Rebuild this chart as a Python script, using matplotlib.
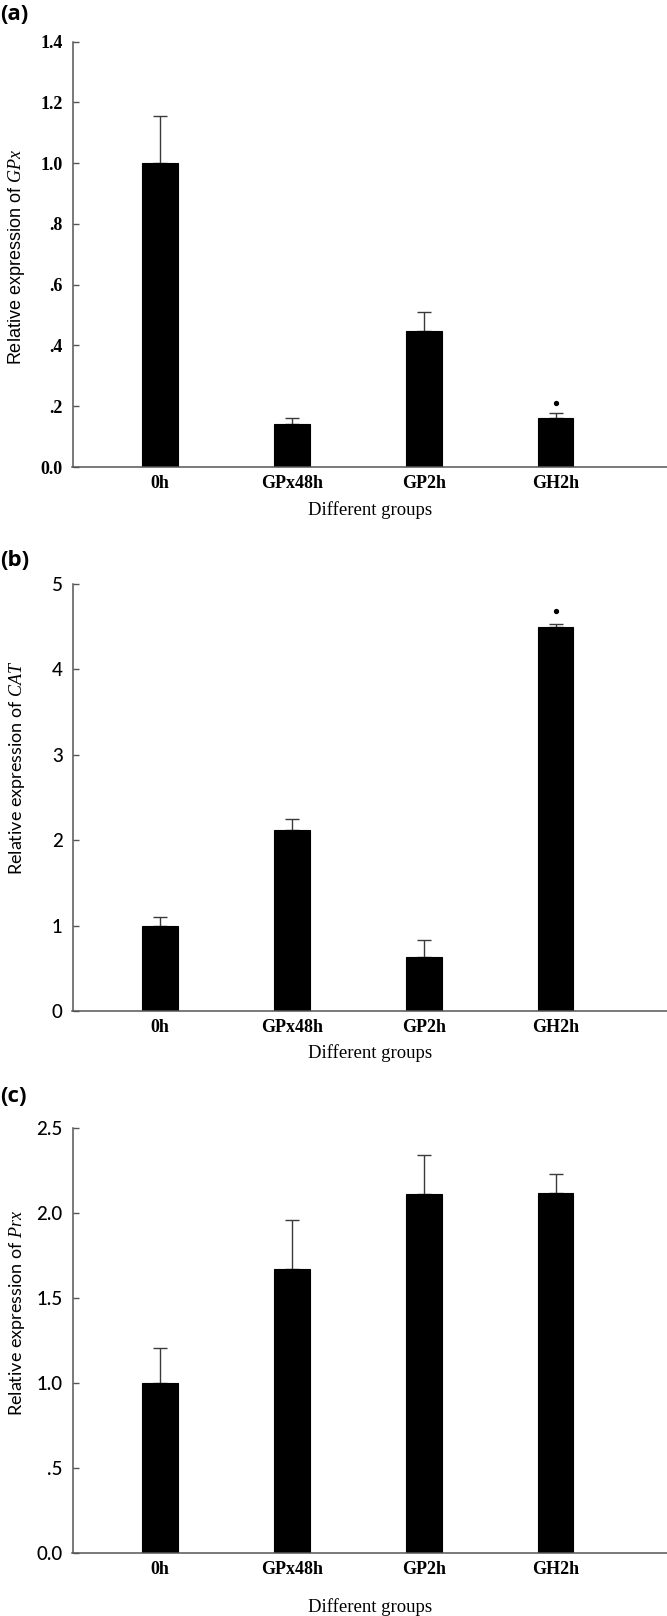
import matplotlib
matplotlib.use("Agg")
import matplotlib.pyplot as plt

plt.rcParams['mathtext.fontset'] = 'custom'
plt.rcParams['mathtext.it'] = 'Liberation Serif:italic'
plt.rcParams['mathtext.rm'] = 'Liberation Sans'

groups = ['0h', 'GPx48h', 'GP2h', 'GH2h']

# relative expression (mean) and upper error
gpx_mean = [1.0, 0.141, 0.449, 0.161]
gpx_err = [0.157, 0.020, 0.061, 0.016]
cat_mean = [1.0, 2.12, 0.634, 4.50]
cat_err = [0.10, 0.13, 0.196, 0.035]
prx_mean = [1.0, 1.672, 2.112, 2.118]
prx_err = [0.207, 0.285, 0.226, 0.112]

# significance markers: (group index, y value)
gpx_star = (3, 0.212)
cat_star = (3, 4.68)

gpx_ticks = [0.0, 0.2, 0.4, 0.6, 0.8, 1.0, 1.2, 1.4]
gpx_ticklabels = ['0.0', '.2', '.4', '.6', '.8', '1.0', '1.2', '1.4']
cat_ticks = [0, 1, 2, 3, 4, 5]
cat_ticklabels = ['0', '1', '2', '3', '4', '5']
prx_ticks = [0.0, 0.5, 1.0, 1.5, 2.0, 2.5]
prx_ticklabels = ['0.0', '.5', '1.0', '1.5', '2.0', '2.5']

W, H = 667, 1616
fig = plt.figure(figsize=(W / 100, H / 100), dpi=100)

left = 72.5 / W
width = 1.0 - left

panels = [
    # tag, ax top px, ax zero px, means, errs, ymax, ticks, labels, gene, star, ytick font, ylabel font, xlabel offset px, ylabel y, tag y
    ('(a)', 41.7, 467, gpx_mean, gpx_err, 1.4, gpx_ticks, gpx_ticklabels, 'GPx', gpx_star,
     'Liberation Serif', 'Liberation Sans', 43, 0.494, 15),
    ('(b)', 584, 1011, cat_mean, cat_err, 5, cat_ticks, cat_ticklabels, 'CAT', cat_star,
     'Lato', 'Lato', 42, 0.571, 560),
    ('(c)', 1127.7, 1553, prx_mean, prx_err, 2.5, prx_ticks, prx_ticklabels, 'Prx', None,
     'Lato', 'Lato', 54, 0.565, 1096),
]

x = list(range(len(groups)))
for (tag, top, zero, means, errs, ymax, ticks, tlabels, gene, star,
     yfont, lfont, xl_off, yl_y, tag_y) in panels:
    ax = fig.add_axes([left, 1 - zero / H, width, (zero - top) / H])
    ax.bar(x, means, width=0.271, color='black', edgecolor='black', linewidth=0.8, zorder=2)
    ax.errorbar(x, means, yerr=[[0] * len(errs), errs], fmt='none', ecolor='#3a3a3a',
                elinewidth=1.0, capsize=5, capthick=1.0, zorder=1)
    if star is not None:
        ax.plot(star[0], star[1], 'o', color='black', markersize=2.8)
    ax.set_xlim(-0.662, 3.845)
    ax.set_ylim(0, ymax)
    for s in ['top', 'right']:
        ax.spines[s].set_visible(False)
    for s in ['left', 'bottom']:
        ax.spines[s].set_color('#555555')
        ax.spines[s].set_linewidth(1.1)
    ax.set_yticks(ticks)
    if yfont == 'Liberation Serif':
        ax.set_yticklabels(tlabels, fontfamily=yfont, fontweight='bold', fontsize=13)
    else:
        ax.set_yticklabels(tlabels, fontfamily=yfont, fontweight='medium', fontsize=13.5)
    ax.tick_params(axis='y', direction='in', length=4.5, width=1.0, color='#555555', pad=7)
    ax.set_xticks(x)
    ax.set_xticklabels(groups, fontfamily='Liberation Serif', fontweight='bold', fontsize=13)
    ax.tick_params(axis='x', length=0, pad=6)
    ax.set_ylabel(r'Relative expression of $\mathit{%s}$' % gene, fontfamily=lfont, fontsize=13)
    ax.yaxis.set_label_coords(-0.076, yl_y)
    ax.text(0.5 * (left + 1.0), 1 - (zero + xl_off) / H, 'Different groups',
            transform=fig.transFigure, ha='center', va='center',
            fontfamily='Liberation Serif', fontsize=13.5)
    fig.text(0.0, 1 - tag_y / H, tag, ha='left', va='center',
             fontfamily='Open Sans', fontweight='bold', fontsize=16)

fig.savefig('out.png', dpi=100)
